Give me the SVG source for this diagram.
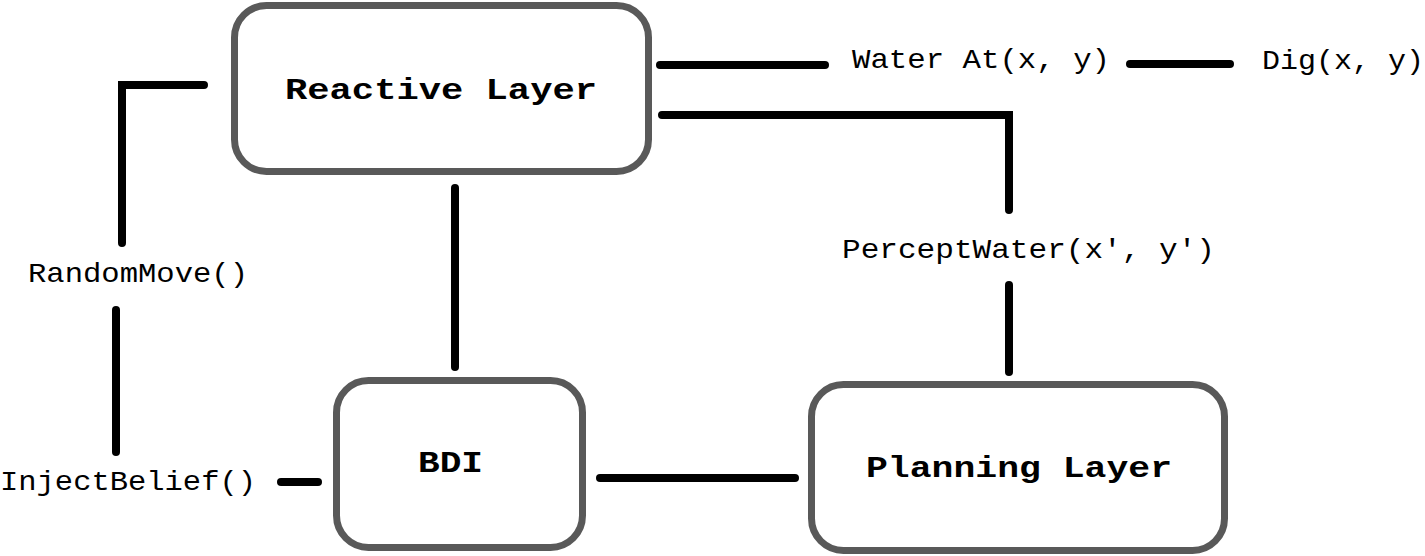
<svg xmlns="http://www.w3.org/2000/svg" width="1425" height="556" viewBox="0 0 1425 556">
<style>
.box{fill:#fff;stroke:#595959;stroke-width:7}
.ttl{font-family:"Liberation Mono","Courier New",monospace;font-weight:bold;font-size:30px;fill:#000}
.lbl{font-family:"Liberation Mono","Courier New",monospace;font-size:28px;fill:#000}
.c{fill:none;stroke:#000;stroke-width:8;stroke-linecap:round;stroke-linejoin:miter}
</style>
<rect width="1425" height="556" fill="#fff"/>
<g id="connectors">
<path class="c" d="M204,85 H122 V243"/>
<path class="c" d="M116,310 V452"/>
<path class="c" d="M281,482 H318"/>
<path class="c" d="M455,188 V367"/>
<path class="c" d="M600,478 H795"/>
<path class="c" d="M660,65 H825"/>
<path class="c" d="M1130,64 H1230"/>
<path class="c" d="M662,115 H1009 V210"/>
<path class="c" d="M1009,285 V372"/>
</g>
<g id="reactive">
<rect class="box" x="234.5" y="5.5" width="414" height="166" rx="32"/>
<text class="ttl" x="285" y="99" textLength="312" lengthAdjust="spacingAndGlyphs">Reactive Layer</text>
</g>
<g id="bdi">
<rect class="box" x="336.5" y="380.5" width="246" height="167" rx="32"/>
<text class="ttl" x="418" y="472" textLength="65" lengthAdjust="spacingAndGlyphs">BDI</text>
</g>
<g id="planning">
<rect class="box" x="811.5" y="384.5" width="413" height="166" rx="32"/>
<text class="ttl" x="866" y="477" textLength="306" lengthAdjust="spacingAndGlyphs">Planning Layer</text>
</g>
<g id="labels">
<text class="lbl" x="852" y="68" textLength="258" lengthAdjust="spacingAndGlyphs">Water At(x, y)</text>
<text class="lbl" x="1262" y="69" textLength="162" lengthAdjust="spacingAndGlyphs">Dig(x, y)</text>
<text class="lbl" x="842" y="258" textLength="373" lengthAdjust="spacingAndGlyphs">PerceptWater(x', y')</text>
<text class="lbl" x="28" y="282" textLength="220" lengthAdjust="spacingAndGlyphs">RandomMove()</text>
<text class="lbl" x="0" y="490" textLength="256" lengthAdjust="spacingAndGlyphs">InjectBelief()</text>
</g>
</svg>
